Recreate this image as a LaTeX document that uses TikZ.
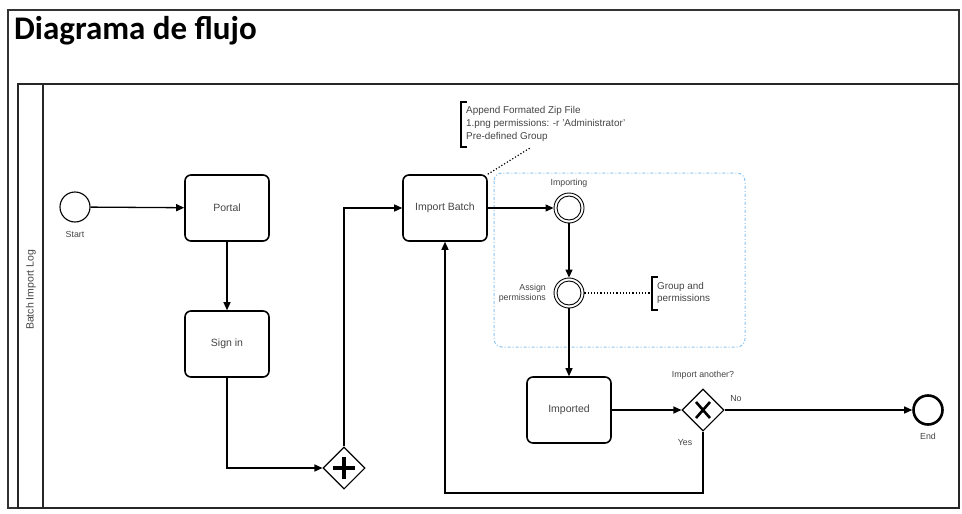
\documentclass[tikz,border=0pt]{standalone}
\usepackage{fontspec}
\setmainfont{Liberation Sans}
\newfontfamily\titlefont{Carlito}
\usetikzlibrary{shapes.geometric,arrows.meta}
\definecolor{txt}{HTML}{444444}
\definecolor{grpblue}{HTML}{8CC4F2}
\begin{document}
\begin{tikzpicture}[x=1pt,y=-1pt,
  task/.style={draw,line width=1.6pt,rounded corners=6pt,minimum width=84pt,minimum height=66pt,inner sep=0pt,font=\fontsize{10.5}{12}\selectfont,text=txt},
  evt/.style={draw,circle,minimum size=30pt,inner sep=0pt,line width=1.1pt},
  gw/.style={draw,diamond,aspect=1,minimum width=42pt,minimum height=42pt,inner sep=0pt,line width=1.1pt},
  lbl/.style={font=\fontsize{8.8}{10.5}\selectfont,text=txt,inner sep=0pt},
  flow/.style={line width=1.3pt,-{Triangle[length=8pt,width=7pt]}},
  assoc/.style={line width=1.2pt,dotted},
  brk/.style={line width=1.3pt}]
\useasboundingbox (0,0) rectangle (962,514);
% frames
\draw[line width=1.4pt,black!80] (8,10) rectangle (959,508);
\draw[line width=1.2pt,black!85] (18,84) rectangle (959,508);
\draw[line width=1.2pt,black!85] (43,84) -- (43,508);
\node[anchor=base west,inner sep=0pt,font=\titlefont\bfseries\fontsize{33}{36}\selectfont] (title) at (14,39) {Diagrama de flujo};
\node[lbl,rotate=90,font=\fontsize{10.5}{12}\selectfont] (lane) at (31,290) {Batch Import Log};
% group
\draw[grpblue,line width=1pt,dash dot,rounded corners=8pt] (494,173) rectangle (745,347);
% nodes
\node[evt] (start) at (75,207) {};
\node[lbl] (startl) at (75,234) {Start};
\node[task] (portal) at (227,208) {Portal};
\node[task] (signin) at (227,344) {Sign in};
\node[gw] (plus) at (344,468) {};
\draw[line width=3.6pt] ([xshift=-11pt]plus.center) -- ([xshift=11pt]plus.center);
\draw[line width=3.6pt] ([yshift=-11pt]plus.center) -- ([yshift=11pt]plus.center);
\node[task] (ib) at (445,208) {Import Batch};
\node[evt,line width=0.9pt] (imp) at (569,208) {};
\draw[line width=0.9pt] (imp.center) circle (12pt);
\node[lbl,anchor=south] (impl) at (569,188) {Importing};
\node[evt,line width=0.9pt] (asg) at (569,293) {};
\draw[line width=0.9pt] (asg.center) circle (12pt);
\node[lbl,align=right,anchor=east] (asgl) at (546,293) {Assign\\permissions};
\node[task] (imported) at (569,410) {Imported};
\node[gw] (xg) at (703,410) {};
\draw[line width=2.6pt] ([shift={(-7pt,-8pt)}]xg.center) -- ([shift={(7pt,8pt)}]xg.center);
\draw[line width=2.6pt] ([shift={(-7pt,8pt)}]xg.center) -- ([shift={(7pt,-8pt)}]xg.center);
\node[lbl] (xgl) at (703,375) {Import another?};
\node[lbl] (nol) at (736,399) {No};
\node[lbl] (yesl) at (685,443) {Yes};
\node[evt,line width=2.6pt,minimum size=29pt] (end) at (928,410) {};
\node[lbl] (endl) at (928,436) {End};
% annotations
\node[anchor=west,align=left,inner sep=0pt,font=\fontsize{9.9}{13}\selectfont,text=txt] (ann1) at (466,124) {Append Formated Zip File\\1.png permissions: -r 'Administrator'\\Pre-defined Group};
\draw[brk] (467,102) -- (461,102) -- (461,147) -- (467,147);
\coordinate (ann1tail) at (530,148);
\node[anchor=west,align=left,inner sep=0pt,font=\fontsize{9.9}{12}\selectfont,text=txt] (ann2) at (657,293) {Group and\\permissions};
\draw[brk] (658,277) -- (652,277) -- (652,310) -- (658,310);
\coordinate (ann2tail) at (652,293);
\draw[assoc] (ib.north east) -- (ann1tail);
\draw[assoc] (asg.east) -- (ann2tail);
% flows
\draw[flow] (start) -- (portal);
\draw[flow] (portal) -- (signin);
\draw[flow] (signin.south) |- (plus.west);
\draw[flow] (plus.north) |- (ib.west);
\draw[flow] (ib) -- (imp);
\draw[flow] (imp) -- (asg);
\draw[flow] (asg) -- (imported);
\draw[flow] (imported) -- (xg);
\draw[flow] (xg) -- (end);
\coordinate (loop) at (703,493);
\draw[flow] (xg.south) -- (loop) -| (ib.south);
\end{tikzpicture}
\end{document}
